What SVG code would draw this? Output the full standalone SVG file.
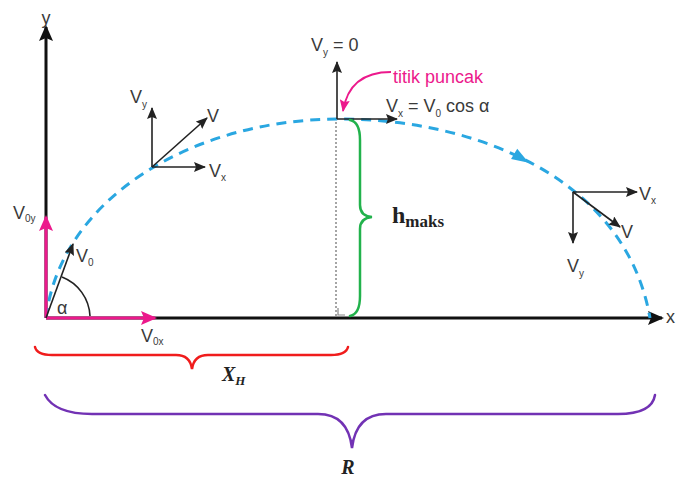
<svg xmlns="http://www.w3.org/2000/svg" width="676" height="477" viewBox="0 0 676 477">
<style>
.lbl{font-family:"Liberation Sans","DejaVu Sans",sans-serif;fill:#3a3a3a;font-size:18px}
.sub{font-size:10px}
.ax{stroke:#111;stroke-width:3;fill:none}
.vec{stroke:#222;stroke-width:1.6;fill:none}
.pk{stroke:#ec198c;stroke-width:3;fill:none}
.traj{stroke:#2aa7e1;stroke-width:3;fill:none;stroke-dasharray:10 7}
.brace{fill:none;stroke-width:2.5;stroke-linecap:round}
.ser{font-family:"Liberation Serif","DejaVu Serif",serif;fill:#222;font-weight:bold}
</style>
<defs>
<marker id="axArr" markerUnits="userSpaceOnUse" markerWidth="16" markerHeight="14" refX="14" refY="7" orient="auto"><path d="M0,0 L16,7 L0,14 L3,7 z" fill="#111"/></marker>
<marker id="pkArr" markerUnits="userSpaceOnUse" markerWidth="16" markerHeight="14" refX="14" refY="7" orient="auto"><path d="M0,0 L16,7 L0,14 L3,7 z" fill="#ec198c"/></marker>
<marker id="vArr" markerUnits="userSpaceOnUse" markerWidth="12" markerHeight="10" refX="11" refY="5" orient="auto"><path d="M0,0 L12,5 L0,10 L2,5 z" fill="#222"/></marker>
<marker id="pkSm" markerUnits="userSpaceOnUse" markerWidth="12" markerHeight="10" refX="11" refY="5" orient="auto"><path d="M0,0 L12,5 L0,10 L2,5 z" fill="#ec198c"/></marker>
</defs>

<g id="axes">
<line class="ax" x1="46" y1="318" x2="46" y2="27" marker-end="url(#axArr)"/>
<line class="ax" x1="46" y1="318" x2="662" y2="318" marker-end="url(#axArr)"/>
<text class="lbl" x="46" y="24" text-anchor="middle" font-size="20">y</text>
<text class="lbl" x="666" y="323" font-size="15">x</text>
</g>

<g id="trajectory">
<path class="traj" d="M46,318 C60,200 190,120 337,119 C470,118 625,175 650,318"/>
<polygon points="-8,-6 9,0 -8,6" fill="#2aa7e1" transform="translate(521,158) rotate(31)"/>
</g>

<g id="launch">
<line class="pk" x1="46" y1="318" x2="46" y2="217" marker-end="url(#pkArr)"/>
<line class="pk" x1="46" y1="318" x2="155" y2="318" marker-end="url(#pkArr)"/>
<line class="vec" x1="46" y1="318" x2="73" y2="244" marker-end="url(#vArr)"/>
<path class="vec" d="M90,316 A44,44 0 0 0 62,277" stroke-width="1.5"/>
<text class="lbl" x="57" y="314" font-size="15">α</text>
<text class="lbl" x="13" y="219">V<tspan class="sub" dy="3">0y</tspan></text>
<text class="lbl" x="76" y="262">V<tspan class="sub" dy="4">0</tspan></text>
<text class="lbl" x="141" y="342">V<tspan class="sub" dy="3">0x</tspan></text>
</g>

<g id="vector-rise">
<line class="vec" x1="152" y1="167" x2="152" y2="108" marker-end="url(#vArr)"/>
<line class="vec" x1="152" y1="167" x2="207" y2="118" marker-end="url(#vArr)"/>
<line class="vec" x1="152" y1="167" x2="205" y2="167" marker-end="url(#vArr)"/>
<text class="lbl" x="130" y="103">V<tspan class="sub" dy="5" font-size="11">y</tspan></text>
<text class="lbl" x="207" y="122">V</text>
<text class="lbl" x="209" y="177">V<tspan class="sub" dy="4" font-size="11">x</tspan></text>
</g>

<g id="vector-peak">
<line class="vec" x1="337" y1="119" x2="337" y2="62" marker-end="url(#vArr)"/>
<line class="vec" x1="337" y1="119" x2="397" y2="119" marker-end="url(#vArr)"/>
<text class="lbl" x="311" y="51" font-size="19">V<tspan class="sub" dy="5" font-size="11">y</tspan><tspan dy="-5"> = 0</tspan></text>
<text class="lbl" x="386" y="112" font-size="20">V<tspan class="sub" dy="5" font-size="11">x</tspan><tspan dy="-5"> = V</tspan><tspan class="sub" dy="5" font-size="11">0</tspan><tspan dy="-5"> cos α</tspan></text>
<path d="M391,72 C370,72 348,80 343,111" stroke="#ec198c" stroke-width="1.8" fill="none" marker-end="url(#pkSm)"/>
<text class="lbl" x="393" y="83" font-size="20" style="fill:#ec198c">titik puncak</text>
</g>

<g id="hmaks">
<line x1="336" y1="122" x2="336" y2="316" stroke="#888" stroke-width="1.5" stroke-dasharray="2 2"/>
<path d="M338,308 L338,315 L345,315" stroke="#888" stroke-width="1.2" fill="none"/>
<path class="brace" stroke="#22b24c" d="M350,120 Q360,122 360,140 L360,205 Q360,216 372,217 Q360,218 360,229 L360,296 Q360,314 350,316"/>
<text class="ser" x="392" y="223" font-size="24">h<tspan dy="4" font-size="17">maks</tspan></text>
</g>

<g id="vector-fall">
<line class="vec" x1="573" y1="192" x2="637" y2="192" marker-end="url(#vArr)"/>
<line class="vec" x1="573" y1="192" x2="620" y2="227" marker-end="url(#vArr)"/>
<line class="vec" x1="573" y1="192" x2="573" y2="243" marker-end="url(#vArr)"/>
<text class="lbl" x="639" y="200">V<tspan class="sub" dy="4" font-size="11">x</tspan></text>
<text class="lbl" x="621" y="238">V</text>
<text class="lbl" x="567" y="272">V<tspan class="sub" dy="5" font-size="11">y</tspan></text>
</g>

<g id="range">
<path class="brace" stroke="#f01c1c" d="M35,347 Q37,355 52,355 L176,355 Q190,355 192,369 Q194,355 208,355 L331,355 Q346,355 348,347"/>
<text class="ser" x="222" y="381" font-size="20" font-style="italic">X<tspan dy="4" font-size="13">H</tspan></text>
<path class="brace" stroke="#7232b4" d="M45,395 Q55,414 92,414 L318,414 Q348,414 352,448 Q356,414 386,414 L618,414 Q652,414 655,395"/>
<text class="ser" x="348" y="474" font-size="20" font-style="italic" text-anchor="middle">R</text>
</g>
</svg>
